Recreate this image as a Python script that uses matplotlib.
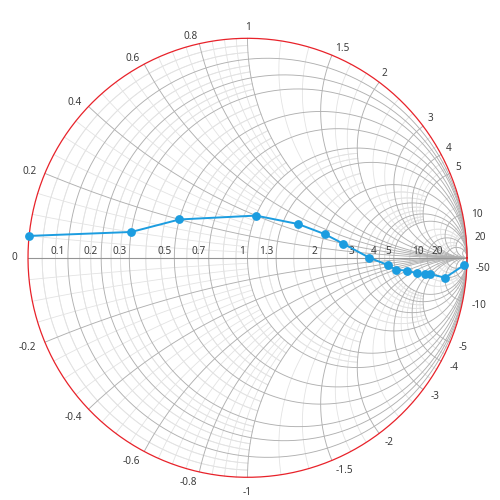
import numpy as np
import matplotlib.pyplot as plt

# data: normalised impedance points (resistance, reactance)
resistance = [0, 0.3, 0.5, 1, 1.5, 2, 2.5, 3.5, 4.5, 5, 6, 7, 8, 9, 10, 20]
reactance = [0.05, 0.1, 0.2, 0.4, 0.5, 0.5, 0.4, 0, -0.5, -1, -1.5, -2.5, -3.5, -4.5, -10, -50]

# axis labels
r_labels = [0.1, 0.2, 0.3, 0.5, 0.7, 1, 1.3, 2, 3, 4, 5, 10, 20]
x_labels = [0.2, 0.4, 0.6, 0.8, 1, 1.5, 2, 3, 4, 5, 10, 20,
            -0.2, -0.4, -0.6, -0.8, -1, -1.5, -2, -3, -4, -5, -10, -50]

major_r = [0.1, 0.2, 0.3, 0.5, 0.7, 1, 1.3, 2, 3, 4, 5, 10, 20]
major_x = [0.2, 0.4, 0.6, 0.8, 1, 1.5, 2, 3, 4, 5, 10, 20, 50]

PX = 219.5  # pixels per unit of gamma


def gamma(z):
    return (z - 1) / (z + 1)


def r_circle(r, xmax):
    a = np.arctan(xmax / (r + 1))
    psi = np.linspace(-a, a, 500)
    return gamma(r + 1j * (r + 1) * np.tan(psi))


def x_arc(x, rmax):
    psi0 = np.arctan(abs(x))
    psi1 = np.arctan(abs(x) / (rmax + 1)) if rmax < 1e6 else 1e-5
    psi = np.linspace(psi1, psi0, 400)
    rr = abs(x) / np.tan(psi) - 1
    return gamma(rr + 1j * x)


def fmt(v):
    return ('%g' % v)


fig = plt.figure(figsize=(5, 5), dpi=100)
ax = fig.add_axes([0, 0, 1, 1])
ax.set_xlim(-247.5 / PX, 252.5 / PX)
ax.set_ylim(-242.2 / PX, 257.8 / PX)
ax.axis('off')

minor_c = '#e3e3e3'
major_c = '#b0b0b0'

# minor grid: subdivisions between major values, clipped by zone
r_edges = [0] + major_r + [50]
for i in range(len(r_edges) - 1):
    a, b = r_edges[i], r_edges[i + 1]
    xmax = 1 if b <= 1 else (2 if b <= 2 else (5 if b <= 5 else 20))
    for k in (1, 2):
        g = r_circle(a + (b - a) * k / 3, xmax)
        ax.plot(g.real, g.imag, color=minor_c, lw=0.6, zorder=1)
        ax.plot(g.real, -g.imag, color=minor_c, lw=0.6, zorder=1)

x_edges = [0] + major_x + [100]
for i in range(len(x_edges) - 1):
    a, b = x_edges[i], x_edges[i + 1]
    rmax = 1 if b <= 1 else (2 if b <= 2 else (5 if b <= 5 else 20))
    n = 4 if b <= 1 else 3
    for k in range(1, n):
        g = x_arc(a + (b - a) * k / n, rmax)
        ax.plot(g.real, g.imag, color=minor_c, lw=0.6, zorder=1)
        ax.plot(g.real, -g.imag, color=minor_c, lw=0.6, zorder=1)

# major grid
for r in major_r:
    g = r_circle(r, 1e4)
    ax.plot(g.real, g.imag, color=major_c, lw=0.65, zorder=2)
for x in major_x:
    for s in (1, -1):
        g = x_arc(s * x, 1e9)
        ax.plot(g.real, g.imag, color=major_c, lw=0.65, zorder=2)
ax.plot([-1, 1], [0, 0], color='#949494', lw=0.8, zorder=2)

# outer circle
g = r_circle(0, 1e5)
ax.plot(g.real, g.imag, color='#e8222a', lw=0.9, zorder=3)

# resistance labels
tc = '#3c3c3c'
ax.text(-1 - 10.5 / PX, 0, '0', ha='right', va='center', fontsize=7.2,
        color=tc, family='Noto Sans')
for r in r_labels:
    gx = (r - 1) / (r + 1)
    ax.text(gx - 3 / PX, 4.3 / PX, fmt(r), ha='right', va='baseline',
            fontsize=7.2, color=tc, family='Noto Sans')

# reactance labels
rho = 1 + 9 / PX
for x in x_labels:
    g = gamma(1j * x)
    th = np.angle(g)
    lx, ly = rho * np.cos(th), rho * np.sin(th)
    lab = fmt(x)
    if len(lab) == 1 or lab == '-1':
        ha = 'center'
        ly += (4 / PX) * np.sign(np.sin(th))
    else:
        ha = 'right' if np.cos(th) < 0 else 'left'
    ax.text(lx, ly - 2 / PX, lab, ha=ha, va='center', fontsize=7.2,
            color=tc, family='Noto Sans')

# series
z = np.array(resistance) + 1j * np.array(reactance)
g = gamma(z)
ax.plot(g.real, g.imag, color='#1c9de0', lw=1.4, marker='o', ms=5.3,
        zorder=5)

fig.savefig('out.png', dpi=100, facecolor='white')
